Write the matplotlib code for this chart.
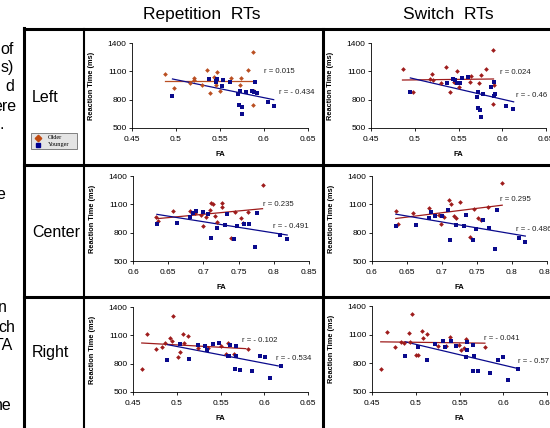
import matplotlib
matplotlib.use("Agg")
import matplotlib.pyplot as plt
from matplotlib.patches import Rectangle

plt.rcParams['font.family'] = ['Liberation Sans', 'DejaVu Sans']

W, H = 550, 428

# ---- data ----
col_titles = ["Repetition  RTs", "Switch  RTs"]
row_titles = ["Left", "Center", "Right"]

# repetition, left
rep_left_old_fa = [0.487, 0.498, 0.516, 0.520, 0.521, 0.530, 0.535, 0.539, 0.543, 0.545,
                   0.547, 0.550, 0.563, 0.573, 0.574, 0.582, 0.587, 0.587, 0.589]
rep_left_old_rt = [1075, 920, 976, 1012, 1026, 959, 1118, 870, 1036, 959,
                   1096, 888, 1026, 952, 1026, 1114, 1305, 747, 895]
rep_left_yng_fa = [0.495, 0.537, 0.545, 0.547, 0.546, 0.552, 0.553, 0.561, 0.571, 0.573,
                   0.572, 0.575, 0.575, 0.579, 0.586, 0.589, 0.590, 0.592, 0.604, 0.611]
rep_left_yng_rt = [842, 1015, 994, 1019, 983, 948, 1005, 983, 860, 888,
                   743, 722, 652, 877, 888, 881, 983, 870, 775, 733]

# switch, left
sw_left_old_fa = [0.486, 0.498, 0.517, 0.520, 0.521, 0.530, 0.536, 0.540, 0.545, 0.545,
                  0.548, 0.551, 0.563, 0.564, 0.574, 0.576, 0.582, 0.589, 0.589, 0.590]
sw_left_old_rt = [1122, 880, 1019, 1069, 1012, 973, 1151, 876, 1023, 987,
                  1105, 937, 991, 1051, 973, 1058, 1122, 1329, 749, 955]
sw_left_yng_fa = [0.494, 0.537, 0.544, 0.546, 0.548, 0.552, 0.554, 0.561, 0.571, 0.572,
                  0.572, 0.575, 0.576, 0.578, 0.587, 0.590, 0.590, 0.592, 0.604, 0.612]
sw_left_yng_rt = [877, 980, 1023, 1008, 980, 973, 1034, 1044, 830, 877,
                  713, 695, 617, 859, 930, 837, 991, 859, 734, 706]

# repetition, center
rep_cen_old_fa = [0.633, 0.636, 0.657, 0.681, 0.688, 0.696, 0.699, 0.704, 0.709, 0.711, 0.714,
                  0.717, 0.720, 0.726, 0.726, 0.739, 0.745, 0.753, 0.756, 0.764, 0.784]
rep_cen_old_rt = [969, 920, 1026, 1026, 1012, 988, 867, 966, 1040, 1118, 1100,
                  973, 912, 1118, 1075, 743, 1022, 951, 898, 1022, 1305]
rep_cen_yng_fa = [0.634, 0.663, 0.681, 0.685, 0.690, 0.700, 0.707, 0.711, 0.720, 0.730,
                  0.734, 0.743, 0.748, 0.757, 0.765, 0.776, 0.774, 0.809, 0.819]
rep_cen_yng_rt = [887, 898, 962, 1012, 1029, 1022, 994, 747, 846, 878,
                  994, 729, 867, 895, 895, 1012, 651, 775, 729]

# switch, center
sw_cen_old_fa = [0.634, 0.637, 0.658, 0.682, 0.690, 0.696, 0.699, 0.703, 0.710, 0.713,
                 0.717, 0.720, 0.726, 0.740, 0.745, 0.752, 0.756, 0.766, 0.786]
sw_cen_old_rt = [1027, 887, 1013, 1062, 992, 985, 887, 967, 1143, 1101,
                 978, 957, 1125, 750, 1055, 960, 939, 1069, 1326]
sw_cen_yng_fa = [0.634, 0.663, 0.682, 0.684, 0.690, 0.700, 0.708, 0.712, 0.720, 0.731,
                 0.734, 0.744, 0.749, 0.758, 0.767, 0.778, 0.775, 0.810, 0.819]
sw_cen_yng_rt = [869, 880, 960, 1020, 978, 974, 1037, 722, 880, 869,
                 992, 722, 834, 932, 845, 1037, 627, 739, 697]

# repetition, right
rep_right_old_fa = [0.460, 0.466, 0.476, 0.483, 0.486, 0.492, 0.494, 0.496, 0.501, 0.504,
                    0.507, 0.508, 0.513, 0.524, 0.536, 0.551, 0.556, 0.558, 0.566, 0.581]
rep_right_old_rt = [747, 1118, 959, 973, 1022, 1075, 1040, 1305, 871, 924,
                    1118, 1022, 1093, 966, 966, 984, 899, 1022, 899, 953]
rep_right_yng_fa = [0.489, 0.504, 0.514, 0.524, 0.532, 0.535, 0.541, 0.548, 0.558, 0.560,
                    0.561, 0.568, 0.568, 0.567, 0.572, 0.586, 0.595, 0.601, 0.606, 0.619]
rep_right_yng_rt = [843, 1012, 853, 995, 988, 949, 1012, 1019, 878, 882,
                    995, 988, 882, 747, 730, 722, 882, 871, 652, 772]

# switch, right
sw_right_old_fa = [0.460, 0.467, 0.476, 0.483, 0.486, 0.492, 0.493, 0.496, 0.500, 0.503, 0.507,
                   0.508, 0.513, 0.525, 0.535, 0.539, 0.549, 0.552, 0.555, 0.557, 0.579]
sw_right_old_rt = [745, 1124, 970, 1025, 1015, 1120, 1025, 1320, 885, 885, 1141,
                   1060, 1102, 984, 981, 1071, 991, 938, 963, 1054, 966]
sw_right_yng_fa = [0.488, 0.503, 0.513, 0.522, 0.531, 0.533, 0.540, 0.546, 0.557, 0.558,
                   0.559, 0.566, 0.567, 0.565, 0.571, 0.585, 0.594, 0.600, 0.605, 0.617]
sw_right_yng_rt = [878, 973, 833, 998, 1036, 970, 1032, 981, 868, 935,
                   1025, 987, 878, 718, 718, 704, 836, 868, 630, 745]

# trend lines (x0, x1, y0, y1) as drawn
fit_old = [(0.487, 0.589, 998, 998), (0.486, 0.590, 1008, 1019),
           (0.634, 0.784, 948, 1054), (0.634, 0.786, 950, 1091),
           (0.460, 0.579, 1019, 959), (0.460, 0.579, 1025, 1011)]
fit_yng = [(0.496, 0.611, 1019, 800), (0.495, 0.613, 1030, 777),
           (0.634, 0.819, 994, 775), (0.634, 0.819, 996, 764),
           (0.489, 0.616, 1002, 776), (0.488, 0.617, 1025, 745)]

r_old = [("r = 0.015", 0.600, 1100), ("r = 0.024", 0.598, 1090),
         ("r = 0.235", 0.785, 1100), ("r = 0.295", 0.783, 1154),
         ("r = - 0.102", 0.574, 1040), ("r = - 0.041", 0.578, 1060)]
r_yng = [("r = - 0.434", 0.617, 881), ("r = - 0.46", 0.616, 841),
         ("r = - 0.491", 0.799, 866), ("r = - 0.486", 0.805, 834),
         ("r = - 0.534", 0.614, 853), ("r = - 0.57", 0.617, 815)]

xticks_lr = [0.45, 0.5, 0.55, 0.6, 0.65]
xticks_c = [0.6, 0.65, 0.7, 0.75, 0.8, 0.85]
yticks = [500, 800, 1100, 1400]

panels = [
    (rep_left_old_fa, rep_left_old_rt, rep_left_yng_fa, rep_left_yng_rt, xticks_lr),
    (sw_left_old_fa, sw_left_old_rt, sw_left_yng_fa, sw_left_yng_rt, xticks_lr),
    (rep_cen_old_fa, rep_cen_old_rt, rep_cen_yng_fa, rep_cen_yng_rt, xticks_c),
    (sw_cen_old_fa, sw_cen_old_rt, sw_cen_yng_fa, sw_cen_yng_rt, xticks_c),
    (rep_right_old_fa, rep_right_old_rt, rep_right_yng_fa, rep_right_yng_rt, xticks_lr),
    (sw_right_old_fa, sw_right_old_rt, sw_right_yng_fa, sw_right_yng_rt, xticks_lr),
]

# axes boxes in pixels: left, top, right, bottom
boxes = [(132, 43, 308, 128), (371, 43, 546, 128),
         (133, 176, 309, 261), (372, 176, 547, 261),
         (133, 307, 308, 392), (372, 306, 547, 392)]

old_colors = ['#BA4F22', '#9E1C1C', '#9E1C1C', '#9E1C1C', '#9E1C1C', '#9E1C1C']
yng_color = '#0A0A8C'

fig = plt.figure(figsize=(5.5, 4.28), dpi=100)

# background layer in pixel coordinates for the slide table
bg = fig.add_axes([0, 0, 1, 1])
bg.set_xlim(0, W)
bg.set_ylim(H, 0)
bg.axis('off')

lw_thick = 2.2
bg.plot([24, 24], [28, H], color='k', lw=lw_thick, solid_capstyle='projecting')
bg.plot([84, 84], [29, H], color='k', lw=1.5)
bg.plot([323, 323], [29, H], color='k', lw=lw_thick)
for yy in [29, 165, 297]:
    bg.plot([24, W], [yy, yy], color='k', lw=lw_thick, solid_capstyle='projecting')

bg.text(202, 14, col_titles[0], fontsize=12.5, ha='center', va='center')
bg.text(448, 14, col_titles[1], fontsize=12.5, ha='center', va='center')
for lab, yy in zip(row_titles, [97, 232, 353]):
    bg.text(32, yy, lab, fontsize=11.5, ha='left', va='center')

# clipped words of the slide text on the left edge
frag = [("of", 14, 49), ("s)", 14, 67), ("d", 14, 86), ("ere", 16, 106), (".", 4, 124),
        ("e", 5, 194), ("n", 7, 307), ("ch", 15, 327), ("TA", 13, 346), ("ne", 12, 406)]
for s, xx, yy in frag:
    bg.text(xx, yy, s, fontsize=11.5, ha='right', va='center')

# legend box
bg.add_patch(Rectangle((31, 133), 46, 16, fc='#E4E4E4', ec='#808080', lw=0.7))
bg.plot(38, 137.5, 'D', color='#C04A10', ms=3.3)
bg.plot(38, 144.5, 's', color='#000090', ms=3.3)
bg.text(48, 137.5, "Older", fontsize=4.5, family=['Liberation Serif'], va='center')
bg.text(48, 144.5, "Younger", fontsize=4.5, family=['Liberation Serif'], va='center')

for i, (ofa, ort, yfa, yrt, xt) in enumerate(panels):
    l, t, r, b = boxes[i]
    ax = fig.add_axes([l / W, 1 - b / H, (r - l) / W, (b - t) / H])
    ax.patch.set_alpha(0)
    ax.plot(ofa, ort, 'D', color=old_colors[i], ms=2.4, mew=0, zorder=3)
    ax.plot(yfa, yrt, 's', color=yng_color, ms=3.0, mew=0, zorder=3)
    x0, x1, y0, y1 = fit_old[i]
    ax.plot([x0, x1], [y0, y1], color=old_colors[i], lw=0.9)
    x0, x1, y0, y1 = fit_yng[i]
    ax.plot([x0, x1], [y0, y1], color=yng_color, lw=0.9)
    for s, xx, yy in (r_old[i], r_yng[i]):
        ax.text(xx, yy, s, fontsize=5.6, color='#222222', va='center', clip_on=False)
    ax.set_xlim(xt[0], xt[-1])
    ax.set_ylim(500, 1400)
    ax.set_xticks(xt)
    ax.set_xticklabels([f"{v:g}" for v in xt])
    ax.set_yticks(yticks)
    for side in ['top', 'right']:
        ax.spines[side].set_visible(False)
    for side in ['left', 'bottom']:
        ax.spines[side].set_linewidth(0.6)
    ax.tick_params(axis='both', labelsize=6, width=0.6, length=2.5, pad=1.5)
    ax.tick_params(axis='x', pad=3)
    ax.set_ylabel("Reaction Time (ms)", fontsize=5.3, fontweight='bold')
    ax.yaxis.set_label_coords(-0.21, 0.5)
    ax.set_xlabel("FA", fontsize=5.5, fontweight='bold')
    ax.xaxis.set_label_coords(0.5, -0.27)

fig.savefig("out.png", dpi=100)
